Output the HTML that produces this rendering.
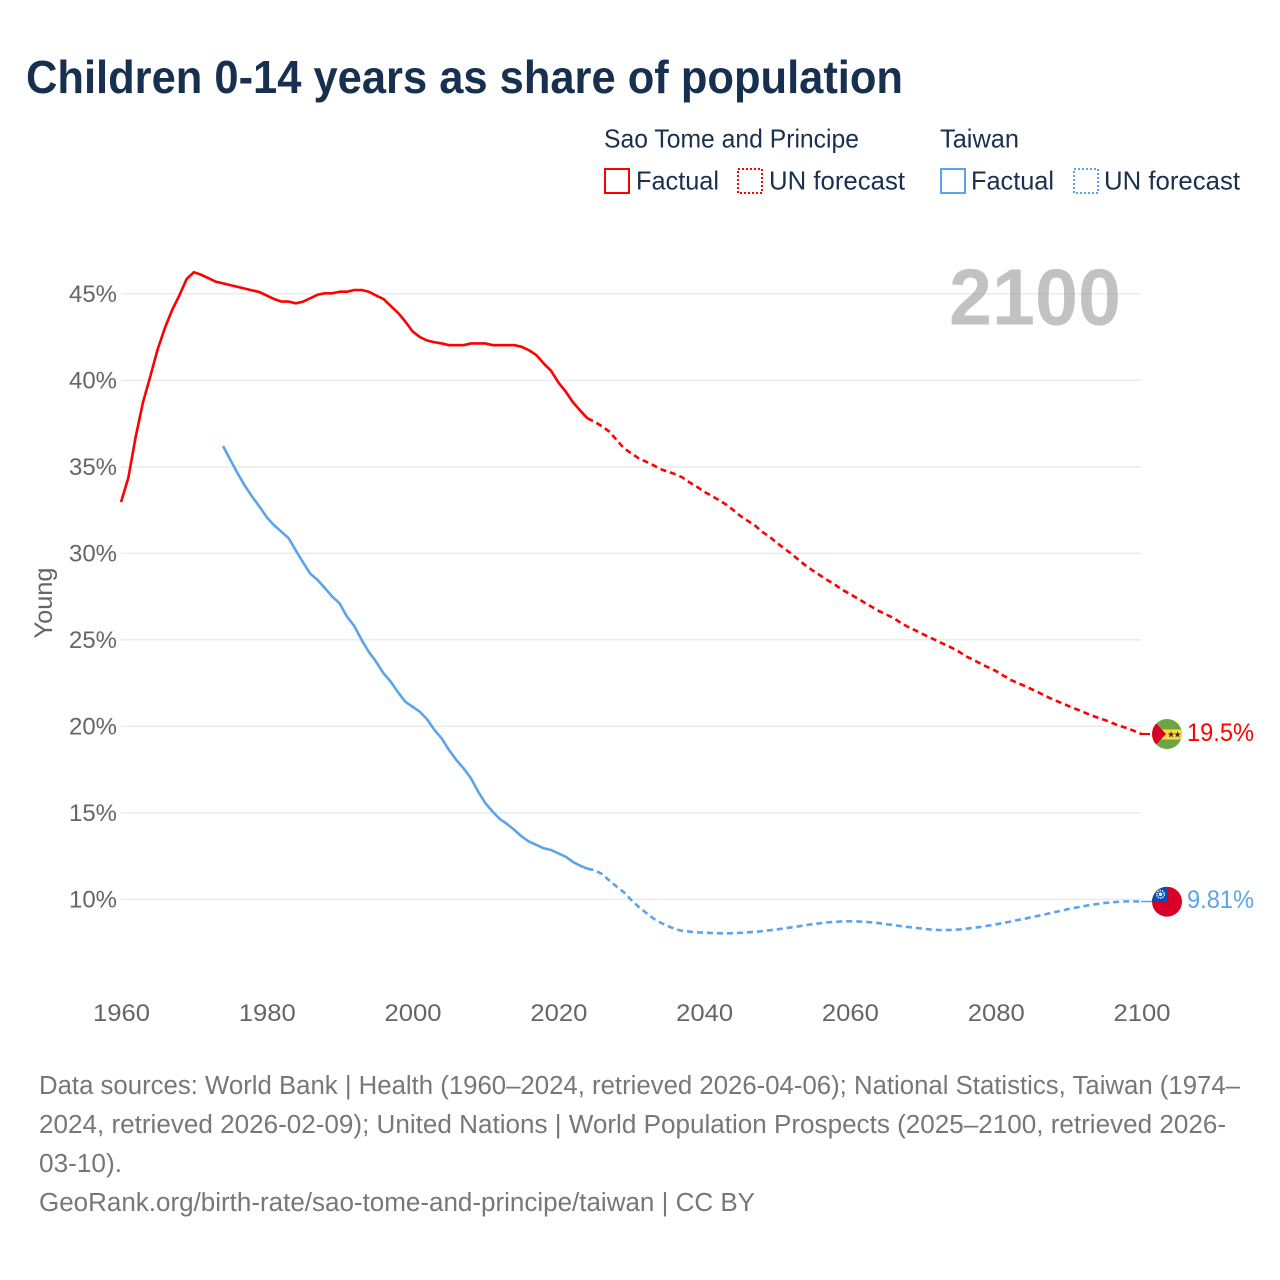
<!DOCTYPE html>
<html lang="en">
<head>
<meta charset="utf-8">
<title>Children 0-14 years as share of population</title>
<style>
html,body{margin:0;padding:0;background:#fff;width:1280px;height:1280px;overflow:hidden}
svg{display:block}
text{font-family:"Liberation Sans",sans-serif}
.leg{font-size:26px;fill:#1a3050}
.foot{font-size:25.5px;fill:#777}
.tick{font-size:24.5px;fill:#666}
</style>
</head>
<body>
<svg id="chart" xmlns="http://www.w3.org/2000/svg" width="1280" height="1280" viewBox="0 0 1280 1280">
  <rect width="1280" height="1280" fill="#fff"/>
  <text x="26" y="93" font-size="46" font-weight="700" fill="#18304f" textLength="877" lengthAdjust="spacingAndGlyphs">Children 0-14 years as share of population</text>

  <text class="leg" x="604" y="147.5" textLength="255" lengthAdjust="spacingAndGlyphs">Sao Tome and Principe</text>
  <text class="leg" x="940" y="147.5" textLength="79" lengthAdjust="spacingAndGlyphs">Taiwan</text>

  <rect x="605" y="169" width="24" height="24" fill="none" stroke="#ff0000" stroke-width="2"/>
  <text class="leg" x="636" y="189.5" textLength="83" lengthAdjust="spacingAndGlyphs">Factual</text>
  <rect x="738" y="169" width="24" height="24" fill="none" stroke="#ff0000" stroke-width="2" stroke-dasharray="2 2"/>
  <text class="leg" x="769" y="189.5" textLength="136" lengthAdjust="spacingAndGlyphs">UN forecast</text>

  <rect x="941" y="169" width="24" height="24" fill="none" stroke="#5ba4ec" stroke-width="2"/>
  <text class="leg" x="971" y="189.5" textLength="83" lengthAdjust="spacingAndGlyphs">Factual</text>
  <rect x="1074" y="169" width="24" height="24" fill="none" stroke="#5ba4ec" stroke-width="2" stroke-dasharray="2 2"/>
  <text class="leg" x="1104" y="189.5" textLength="136" lengthAdjust="spacingAndGlyphs">UN forecast</text>

  <g id="grid"></g>
  <g id="yticks"></g>
  <g id="xticks"></g>

  <text x="0" y="0" transform="translate(52,603) rotate(-90)" text-anchor="middle" font-size="25" fill="#666" textLength="71" lengthAdjust="spacingAndGlyphs">Young</text>

  <text x="949" y="324.5" font-size="80" font-weight="700" fill="#999" fill-opacity="0.6" textLength="172" lengthAdjust="spacingAndGlyphs">2100</text>

  <line x1="1141" y1="734" x2="1150" y2="734" stroke="#ff0000" stroke-width="2"/>
  <line x1="1141" y1="901.5" x2="1152" y2="901.5" stroke="#5ba4ec" stroke-width="1.5"/>

  <path id="red-actual" fill="none" stroke="#ff0000" stroke-width="2.6" stroke-linejoin="round"/>
  <path id="red-forecast" fill="none" stroke="#ff0000" stroke-width="2.6" stroke-dasharray="6 4"/>
  <path id="blue-actual" fill="none" stroke="#5ba4ec" stroke-width="2.6" stroke-linejoin="round"/>
  <path id="blue-forecast" fill="none" stroke="#5ba4ec" stroke-width="2.6" stroke-dasharray="6 4"/>

  <defs>
    <clipPath id="clip-st"><circle cx="1167" cy="734" r="15"/></clipPath>
    <clipPath id="clip-tw"><circle cx="1167" cy="901.7" r="15"/></clipPath>
  </defs>
  <g clip-path="url(#clip-st)">
    <rect x="1152" y="719" width="30" height="30" fill="#6da544"/>
    <rect x="1152" y="729.5" width="30" height="10" fill="#ffda44"/>
    <polygon points="1152,719 1166,734 1152,749" fill="#d80027"/>
    <text x="1171" y="737.5" font-size="9" fill="#333" text-anchor="middle" style="font-family:'DejaVu Sans',sans-serif">★</text>
    <text x="1177.5" y="737.5" font-size="9" fill="#333" text-anchor="middle" style="font-family:'DejaVu Sans',sans-serif">★</text>
  </g>
  <g clip-path="url(#clip-tw)">
    <rect x="1152" y="886.7" width="30" height="30" fill="#d80027"/>
    <rect x="1152" y="886.7" width="15" height="15" fill="#0052b4"/>
    <circle cx="1160.5" cy="894.3" r="3.8" fill="none" stroke="#f0f0f0" stroke-width="1.6" stroke-dasharray="1.4 1"/>
    <circle cx="1160.5" cy="894.3" r="1.8" fill="#f0f0f0"/>
  </g>

  <text x="1187" y="741" font-size="25" fill="#ff0000" textLength="67" lengthAdjust="spacingAndGlyphs">19.5%</text>
  <text x="1187" y="908" font-size="25" fill="#5ba4ec" textLength="67" lengthAdjust="spacingAndGlyphs">9.81%</text>

  <text class="foot" x="39" y="1094" textLength="1201" lengthAdjust="spacingAndGlyphs">Data sources: World Bank | Health (1960–2024, retrieved 2026-04-06); National Statistics, Taiwan (1974–</text>
  <text class="foot" x="39" y="1133" textLength="1187" lengthAdjust="spacingAndGlyphs">2024, retrieved 2026-02-09); United Nations | World Population Prospects (2025–2100, retrieved 2026-</text>
  <text class="foot" x="39" y="1172" textLength="83" lengthAdjust="spacingAndGlyphs">03-10).</text>
  <text class="foot" x="39" y="1211" textLength="716" lengthAdjust="spacingAndGlyphs">GeoRank.org/birth-rate/sao-tome-and-principe/taiwan | CC BY</text>
</svg>
<script>
const yTickValues = [10, 15, 20, 25, 30, 35, 40, 45];
const xTickYears = [1960, 1980, 2000, 2020, 2040, 2060, 2080, 2100];

const saoTomeStartYear = 1960;
const saoTomeActual = [
  32.96, 34.35, 36.7, 38.7, 40.2, 41.75, 43.0, 44.05, 44.9, 45.85,
  46.25, 46.1, 45.9, 45.7, 45.6, 45.5, 45.4, 45.3, 45.2, 45.1,
  44.9, 44.7, 44.55, 44.55, 44.45, 44.55, 44.75, 44.95, 45.03, 45.03,
  45.12, 45.12, 45.22, 45.22, 45.12, 44.9, 44.7, 44.3, 43.9, 43.4,
  42.83, 42.5, 42.3, 42.2, 42.13, 42.03, 42.03, 42.03, 42.13, 42.13,
  42.13, 42.03, 42.03, 42.03, 42.03, 41.93, 41.73, 41.45, 40.97, 40.55,
  39.88, 39.35, 38.73, 38.25, 37.8
];
const saoTomeForecastStartYear = 2024;
const saoTomeForecast = [
  37.8, 37.6, 37.34, 37.03, 36.55, 36.07, 35.78, 35.5, 35.3, 35.1, 34.87,
  34.72, 34.58, 34.39, 34.1, 33.85, 33.56, 33.33, 33.08, 32.82, 32.5,
  32.15, 31.87, 31.6, 31.23, 30.95, 30.6, 30.28, 29.96, 29.6, 29.27,
  28.98, 28.7, 28.43, 28.17, 27.88, 27.65, 27.4, 27.15, 26.9, 26.66,
  26.46, 26.26, 25.97, 25.74, 25.54, 25.33, 25.13, 24.93, 24.73, 24.53,
  24.3, 24.03, 23.83, 23.6, 23.4, 23.2, 22.94, 22.7, 22.5, 22.33,
  22.13, 21.93, 21.72, 21.52, 21.35, 21.17, 21.0, 20.83, 20.65, 20.5,
  20.36, 20.19, 20.02, 19.9, 19.73, 19.55
];

const taiwanStartYear = 1974;
const taiwanActual = [
  36.2, 35.4, 34.62, 33.9, 33.27, 32.7, 32.08, 31.62, 31.25, 30.87,
  30.15, 29.46, 28.8, 28.45, 27.97, 27.49, 27.1, 26.34, 25.8, 25.0,
  24.3, 23.73, 23.07, 22.58, 21.97, 21.42, 21.13, 20.84, 20.4, 19.79,
  19.3, 18.63, 18.05, 17.57, 17.0, 16.22, 15.55, 15.06, 14.63, 14.34,
  14.0, 13.62, 13.33, 13.14, 12.95, 12.85, 12.66, 12.46, 12.16, 11.94, 11.77
];
const taiwanForecastStartYear = 2024;
const taiwanForecast = [
  11.77, 11.68, 11.46, 11.08, 10.73, 10.4, 9.96, 9.57, 9.23, 8.9, 8.65,
  8.46, 8.28, 8.18, 8.13, 8.09, 8.07, 8.05, 8.04, 8.03, 8.04,
  8.06, 8.09, 8.12, 8.16, 8.21, 8.26, 8.32, 8.38, 8.44, 8.51,
  8.57, 8.62, 8.67, 8.70, 8.72, 8.73, 8.72, 8.70, 8.67, 8.62,
  8.56, 8.51, 8.45, 8.40, 8.35, 8.30, 8.26, 8.23, 8.22, 8.23,
  8.26, 8.30, 8.35, 8.41, 8.48, 8.55, 8.63, 8.71, 8.80, 8.88,
  8.97, 9.06, 9.15, 9.25, 9.34, 9.44, 9.52, 9.60, 9.67, 9.73,
  9.79, 9.83, 9.86, 9.88, 9.88, 9.87
];

const SVG_NS = 'http://www.w3.org/2000/svg';
function xScale(year) { return 121 + (year - 1960) * (1141.5 - 121) / 140; }
function yScale(value) { return 899.3 - (value - 10) * 17.3; }
function linePath(startYear, values) {
  return values.map(function (v, i) {
    return (i ? 'L' : 'M') + xScale(startYear + i).toFixed(2) + ' ' + yScale(v).toFixed(2);
  }).join(' ');
}

document.getElementById('red-actual').setAttribute('d', linePath(saoTomeStartYear, saoTomeActual));
document.getElementById('red-forecast').setAttribute('d', linePath(saoTomeForecastStartYear, saoTomeForecast));
document.getElementById('blue-actual').setAttribute('d', linePath(taiwanStartYear, taiwanActual));
document.getElementById('blue-forecast').setAttribute('d', linePath(taiwanForecastStartYear, taiwanForecast));

const gridGroup = document.getElementById('grid');
const yTickGroup = document.getElementById('yticks');
yTickValues.forEach(function (v) {
  const line = document.createElementNS(SVG_NS, 'line');
  line.setAttribute('x1', 121);
  line.setAttribute('x2', 1141);
  line.setAttribute('y1', yScale(v));
  line.setAttribute('y2', yScale(v));
  line.setAttribute('stroke', '#eaeaea');
  line.setAttribute('stroke-width', '1.4');
  
  
  gridGroup.appendChild(line);

  const label = document.createElementNS(SVG_NS, 'text');
  label.setAttribute('class', 'tick');
  label.setAttribute('x', 69);
  label.setAttribute('y', yScale(v) + 8);
  label.setAttribute('textLength', 48);
  label.setAttribute('lengthAdjust', 'spacingAndGlyphs');
  
  
  label.textContent = v + '%';
  yTickGroup.appendChild(label);
});

const xTickGroup = document.getElementById('xticks');
xTickYears.forEach(function (year) {
  const label = document.createElementNS(SVG_NS, 'text');
  label.setAttribute('class', 'tick');
  label.setAttribute('x', xScale(year) - 28);
  label.setAttribute('y', 1021);
  label.setAttribute('textLength', 57);
  label.setAttribute('lengthAdjust', 'spacingAndGlyphs');
  
  
  label.textContent = year;
  xTickGroup.appendChild(label);
});
</script>
</body>
</html>
